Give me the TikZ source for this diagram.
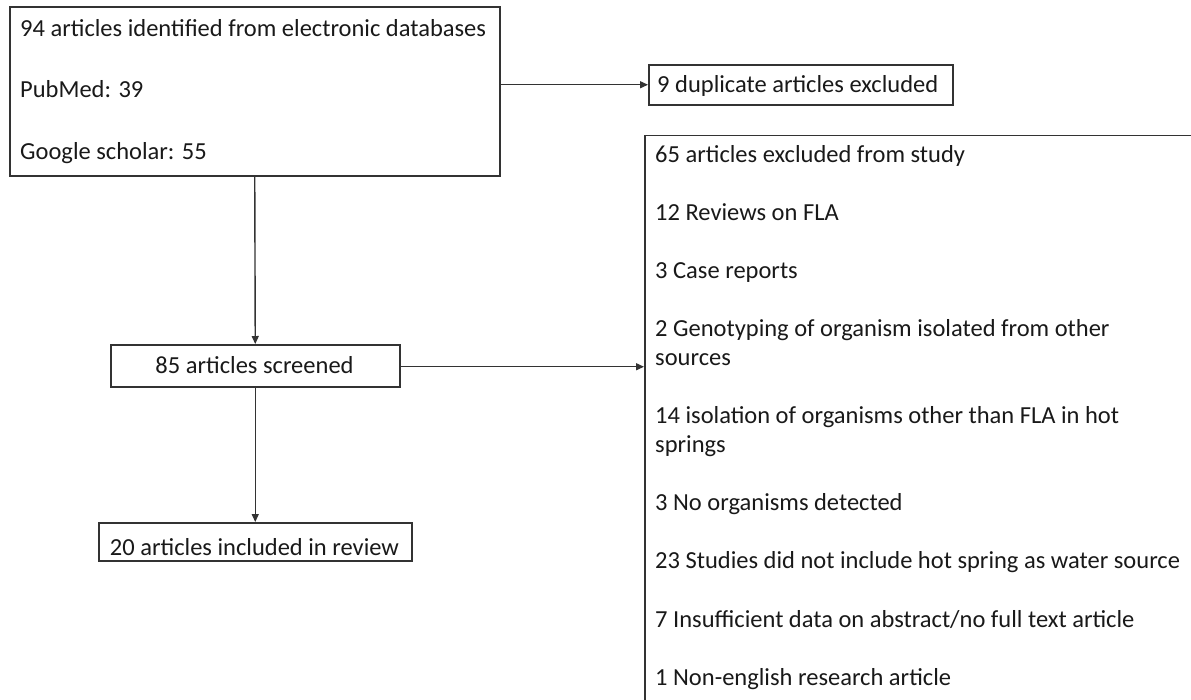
\documentclass[tikz,border=0pt]{standalone}
\usepackage{fontspec}
\setmainfont{Carlito}
\usetikzlibrary{arrows.meta}
\begin{document}
\begin{tikzpicture}[x=1pt,y=-1pt,
  box/.style={draw=black!80,line width=1.5pt,inner sep=0pt,anchor=north west},
  txt/.style={inner sep=0pt,anchor=base west,text=black!90,font=\fontsize{24.5}{29}\selectfont},
  ctxt/.style={txt,anchor=base},
  arr/.style={draw=black!80,line width=1.4pt,-{Triangle[length=8pt,width=7pt]}},
  ln/.style={draw=black!80,line width=1.4pt}]
\useasboundingbox[fill=white] (0,0) rectangle (1191,699);
% boxes
\node[box,minimum width=490,minimum height=169] (src) at (9,6) {};
\node[box,minimum width=304,minimum height=40] (dup) at (648,64) {};
\node[box,minimum width=289,minimum height=42] (scr) at (110,344) {};
\node[box,minimum width=313,minimum height=38] (inc) at (98,522) {};
\begin{scope}
\clip (0,0) rectangle (1191,699);
\node[box,minimum width=600,minimum height=600] (exc) at (644,134.5) {};
\end{scope}
% texts
\node[txt] (t1) at (20,36) {94 articles identified from electronic databases};
\node[txt] (t2) at (20,97) {PubMed: 39};
\node[txt] (t3) at (20,159) {Google scholar: 55};
\node[txt] (d1) at (657,92) {9 duplicate articles excluded};
\node[ctxt] (s1) at (254.5,373) {85 articles screened};
\node[ctxt] (i1) at (254.5,555) {20 articles included in review};
\node[txt] (e1) at (655,162) {65 articles excluded from study};
\node[txt] (e2) at (655,220) {12 Reviews on FLA};
\node[txt] (e3) at (655,278) {3 Case reports};
\node[txt] (e4) at (655,336) {2 Genotyping of organism isolated from other};
\node[txt] (e4b) at (655,365) {sources};
\node[txt] (e5) at (655,423) {14 isolation of organisms other than FLA in hot};
\node[txt] (e5b) at (655,452) {springs};
\node[txt] (e6) at (655,510) {3 No organisms detected};
\node[txt] (e7) at (655,568) {23 Studies did not include hot spring as water source};
\node[txt] (e8) at (655,627) {7 Insufficient data on abstract/no full text article};
\node[txt] (e9) at (655,685) {1 Non-english research article};
% connectors
\draw[arr] (src.east |- dup.west) -- (dup.west);
\draw[arr] (src.south) -- (scr.north);
\draw[arr] (scr.south) -- (inc.north);
\draw[arr] ([yshift=-1]scr.east) -- ([yshift=-1]scr.east -| exc.west);
\end{tikzpicture}
\end{document}
